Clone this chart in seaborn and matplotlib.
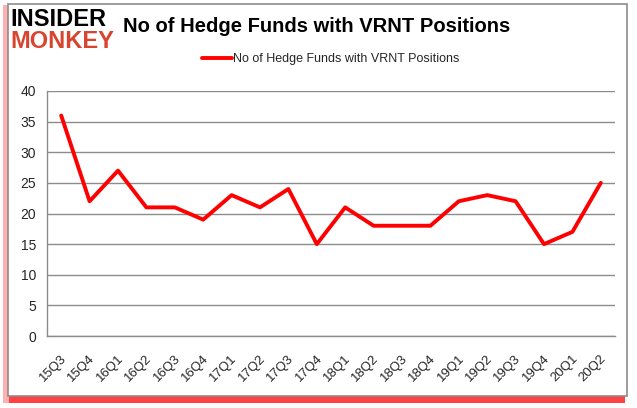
import numpy as np
import matplotlib
matplotlib.use("Agg")
import matplotlib.pyplot as plt
import matplotlib.transforms as mtransforms
from matplotlib.patches import Rectangle
import seaborn as sns
import pandas as pd

quarters = ["15Q3", "15Q4", "16Q1", "16Q2", "16Q3", "16Q4", "17Q1", "17Q2", "17Q3", "17Q4",
            "18Q1", "18Q2", "18Q3", "18Q4", "19Q1", "19Q2", "19Q3", "19Q4", "20Q1", "20Q2"]
funds = [36, 22, 27, 21, 21, 19, 23, 21, 24, 15,
         21, 18, 18, 18, 22, 23, 22, 15, 17, 25]
series_name = "No of Hedge Funds with VRNT Positions"
y_ticks = [0, 5, 10, 15, 20, 25, 30, 35, 40]

sns.set_theme(style="white")
plt.rcParams['font.family'] = ['Liberation Sans', 'DejaVu Sans']

df = pd.DataFrame({"pos": np.arange(len(quarters)), "funds": funds})

W, H = 637, 408
fig = plt.figure(figsize=(W / 100, H / 100), dpi=100)

# red shadow + gray frame
fig.patches.append(Rectangle((3 / W, 1 - 403 / H), 622 / W, 7 / H, transform=fig.transFigure,
                             facecolor="#ff2020", edgecolor="none", alpha=0.85, zorder=0))
fig.patches.append(Rectangle((3 / W, 1 - 403 / H), 6 / W, 398 / H, transform=fig.transFigure,
                             facecolor="#ffb0b0", edgecolor="none", zorder=0))
fig.patches.append(Rectangle((8 / W, 1 - 396 / H), 619 / W, 392 / H, transform=fig.transFigure,
                             facecolor="white", edgecolor="#8c8c8c", linewidth=1.2, zorder=1))

ax = fig.add_axes([47 / W, 1 - 336 / H, 568 / W, 245 / H])
ax.set_zorder(2)
ax.patch.set_alpha(0)

sns.lineplot(data=df, x="pos", y="funds", ax=ax, color="#ff0000", linewidth=2.8,
             label=series_name, legend=False)

ax.set_xlim(-0.5, len(quarters) - 0.5)
ax.set_ylim(0, 40)
ax.set_yticks(y_ticks)
ax.set_yticklabels([str(v) for v in y_ticks], fontsize=10)
ax.yaxis.grid(True, color="#8c8c8c", linewidth=1)
ax.set_axisbelow(True)

ax.set_xticks(np.arange(len(quarters)))
ax.set_xticklabels(quarters, fontsize=9.5)
ax.set_xticks(np.arange(len(quarters) + 1) - 0.5, minor=True)
ax.tick_params(axis="x", which="major", length=0, pad=15)
ax.tick_params(axis="x", which="minor", length=5, color="#8c8c8c", direction="out")
ax.tick_params(axis="y", length=5, color="#8c8c8c", direction="out", pad=3)
shift = mtransforms.ScaledTranslation(3.5 / 100, 0, fig.dpi_scale_trans)
for lbl in ax.get_xticklabels():
    lbl.set_rotation(45)
    lbl.set_rotation_mode("anchor")
    lbl.set_ha("right")
    lbl.set_va("center")
    lbl.set_transform(lbl.get_transform() + shift)

for side in ["top", "right"]:
    ax.spines[side].set_visible(False)
for side in ["left", "bottom"]:
    ax.spines[side].set_color("#8c8c8c")
    ax.spines[side].set_linewidth(1)
ax.set_xlabel("")
ax.set_ylabel("")

ax.legend(loc="upper center", bbox_to_anchor=(0.5, 1.2), frameon=False, fontsize=9,
          handlelength=2.4, handletextpad=0.1)

# logo and title
fig.text(10 / W, 1 - 20 / H, "INSIDER", fontsize=17, fontweight="bold", color="black",
         va="center", ha="left", zorder=3)
fig.text(10 / W, 1 - 42 / H, "MONKEY", fontsize=17, fontweight="bold", color="#d9442e",
         va="center", ha="left", zorder=3)
fig.text(317 / W, 1 - 27 / H, "No of Hedge Funds with VRNT Positions", fontsize=14.5,
         fontweight="bold", color="black", va="center", ha="center", zorder=3)

fig.savefig("out.png", dpi=100)
